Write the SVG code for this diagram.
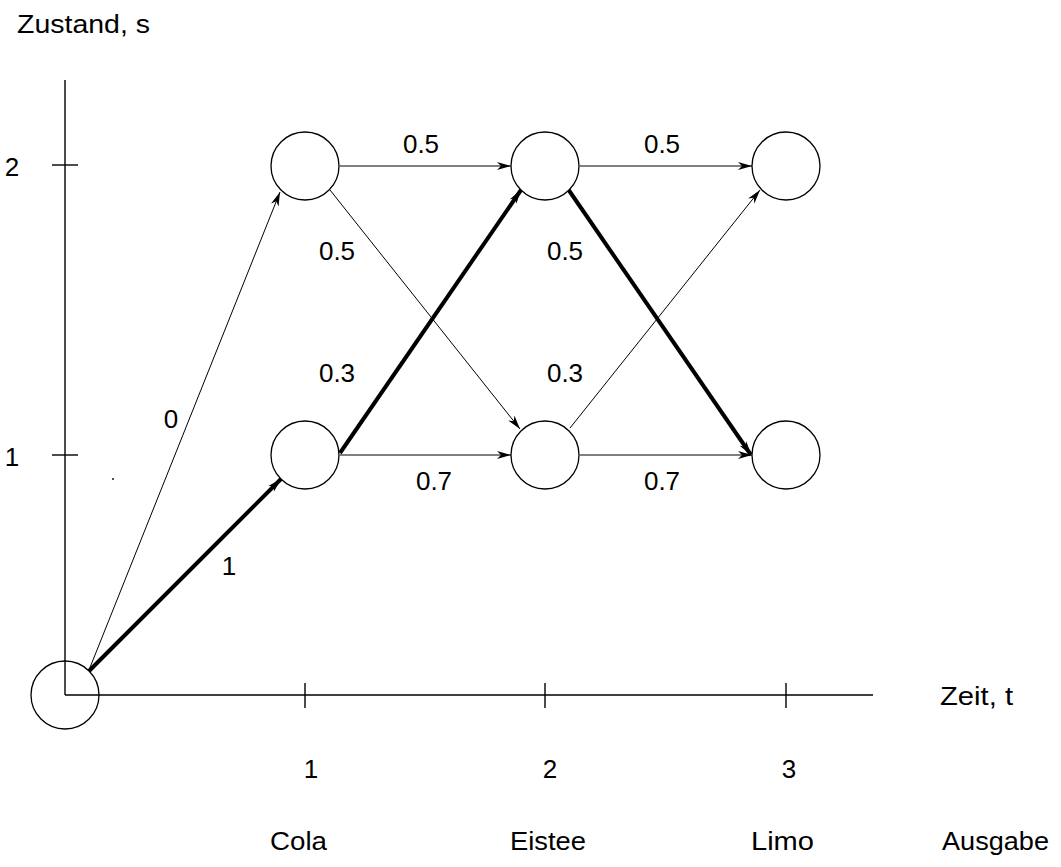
<svg xmlns="http://www.w3.org/2000/svg" width="1061" height="867" viewBox="0 0 1061 867">
<style>
text{font-family:"Liberation Sans",Arial,sans-serif;font-size:26px;fill:#000}
.c{text-anchor:middle}
.node{fill:#fff;stroke:#000;stroke-width:1.3}
.ax{stroke:#000;stroke-width:1.4;fill:none}
.thin{stroke:#000;stroke-width:1;fill:none;marker-end:url(#ah)}
.thick{stroke:#000;stroke-width:4;fill:none;marker-end:url(#ah)}
</style>
<defs>
<marker id="ah" markerUnits="userSpaceOnUse" markerWidth="16" markerHeight="10" refX="14" refY="4" orient="auto" overflow="visible">
<path d="M0,0 L14,4 L0,8 L4,4 Z" fill="#000"/>
</marker>
</defs>
<rect width="1061" height="867" fill="#fff"/>
<g id="axes">
<line class="ax" x1="65" y1="80" x2="65" y2="695"/>
<line class="ax" x1="65" y1="695" x2="873" y2="695"/>
<line class="ax" x1="52" y1="165" x2="78" y2="165"/>
<line class="ax" x1="52" y1="455" x2="78" y2="455"/>
<line class="ax" x1="305" y1="683" x2="305" y2="708"/>
<line class="ax" x1="545" y1="683" x2="545" y2="708"/>
<line class="ax" x1="786" y1="683" x2="786" y2="708"/>
<text x="17" y="33" textLength="133" lengthAdjust="spacingAndGlyphs">Zustand, s</text>
<text class="c" x="12" y="176">2</text>
<text class="c" x="12" y="466">1</text>
<text x="940" y="705" textLength="73" lengthAdjust="spacingAndGlyphs">Zeit, t</text>
<text class="c" x="311" y="778">1</text>
<text class="c" x="550" y="778">2</text>
<text class="c" x="789" y="778">3</text>
<text x="270" y="850" textLength="57" lengthAdjust="spacingAndGlyphs">Cola</text>
<text x="510" y="850" textLength="76" lengthAdjust="spacingAndGlyphs">Eistee</text>
<text x="751" y="850" textLength="63" lengthAdjust="spacingAndGlyphs">Limo</text>
<text x="942" y="850" textLength="107" lengthAdjust="spacingAndGlyphs">Ausgabe</text>
<circle cx="113" cy="479" r="0.9" fill="#000"/>
</g>
<g id="connectors">
<line class="thin" x1="89" y1="670" x2="280" y2="192"/>
<line class="thick" x1="89" y1="671" x2="281" y2="479"/>
<line class="thin" x1="340" y1="166" x2="511" y2="166"/>
<line class="thin" x1="580" y1="166" x2="752" y2="166"/>
<line class="thin" x1="340" y1="455" x2="511" y2="455"/>
<line class="thin" x1="580" y1="455" x2="752" y2="455"/>
<line class="thin" x1="330" y1="190" x2="520" y2="429"/>
<line class="thick" x1="340" y1="453" x2="521" y2="190"/>
<line class="thick" x1="568" y1="189" x2="751" y2="455"/>
<line class="thin" x1="570" y1="428" x2="760" y2="190"/>
</g>
<g id="labels">
<text class="c" x="421" y="153">0.5</text>
<text class="c" x="662" y="153">0.5</text>
<text class="c" x="337" y="260">0.5</text>
<text class="c" x="565" y="260">0.5</text>
<text class="c" x="337" y="382">0.3</text>
<text class="c" x="565" y="382">0.3</text>
<text class="c" x="434" y="490">0.7</text>
<text class="c" x="662" y="490">0.7</text>
<text class="c" x="171" y="428">0</text>
<text class="c" x="229" y="575">1</text>
</g>
<g id="n0"><circle class="node" cx="65" cy="695" r="34"/></g>
<line class="ax" x1="65" y1="661" x2="65" y2="695"/>
<line class="ax" x1="65" y1="695" x2="99" y2="695"/>
<g id="n1a"><circle class="node" cx="305" cy="166" r="34"/></g>
<g id="n2a"><circle class="node" cx="545" cy="166" r="34"/></g>
<g id="n3a"><circle class="node" cx="786" cy="166" r="34"/></g>
<g id="n1b"><circle class="node" cx="305" cy="455" r="34"/></g>
<g id="n2b"><circle class="node" cx="545" cy="455" r="34"/></g>
<g id="n3b"><circle class="node" cx="786" cy="455" r="34"/></g>
</svg>
